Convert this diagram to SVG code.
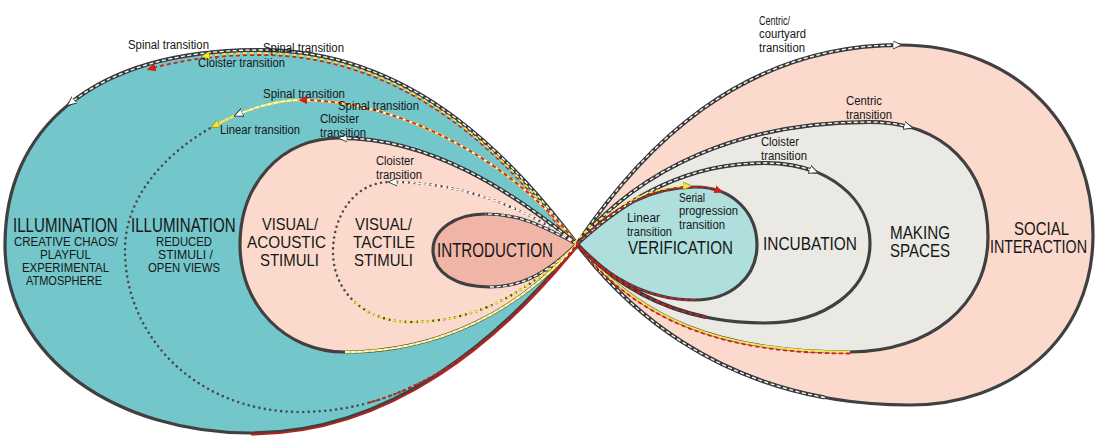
<svg xmlns="http://www.w3.org/2000/svg" width="1115" height="438" viewBox="0 0 1115 438">
<style>
text{font-family:"Liberation Sans",Arial,sans-serif;fill:#161616}
.out{stroke:#404040;stroke-width:3.2;stroke-linejoin:round}
.dot{fill:none;stroke:#4a4a4a;stroke-width:2.6;stroke-linecap:round;stroke-dasharray:0 5.5}
.base{fill:none;stroke:#3b3b3b;stroke-width:4}
.wd{fill:none;stroke:#fff;stroke-width:1.3;stroke-dasharray:4 2.5}
.rd{fill:none;stroke:#d21f1b;stroke-width:1.8;stroke-dasharray:4 3}
.yd{fill:none;stroke:#f2e73a;stroke-width:1.8;stroke-dasharray:4 3}
.ys{fill:none;stroke:#efe55a;stroke-width:2.4}
.big{font-size:20px}
.sub{font-size:12.5px}
.mid{font-size:16.5px}
.sm{font-size:12px}
</style>
<defs>
<marker id="aw" viewBox="0 0 10 10" refX="8" refY="5" markerWidth="9" markerHeight="9" markerUnits="userSpaceOnUse" orient="auto"><path d="M0,0.5 L10,5 L0,9.5 z" fill="#fff" stroke="#333" stroke-width="1"/></marker>
<marker id="ar" viewBox="0 0 10 10" refX="8" refY="5" markerWidth="9" markerHeight="9" markerUnits="userSpaceOnUse" orient="auto"><path d="M0,0.5 L10,5 L0,9.5 z" fill="#d21f1b"/></marker>
<marker id="ay" viewBox="0 0 10 10" refX="8" refY="5" markerWidth="9" markerHeight="9" markerUnits="userSpaceOnUse" orient="auto"><path d="M0,0.5 L10,5 L0,9.5 z" fill="#f2e73a" stroke="#8c8420" stroke-width="0.8"/></marker>
</defs>

<g id="illumination-creative">
<path class="out" fill="#73c6c9" d="M577,244 C520,170 420,50 260,50 C90,50 5,130 5,245 C5,360 120,433 250,433 C390,433 500,340 577,244 Z"/>
<text class="big" x="17.2" y="232" transform="scale(0.756,1)">ILLUMINATION</text>
<text class="sub" x="14" y="246" textLength="104" lengthAdjust="spacingAndGlyphs">CREATIVE CHAOS/</text>
<text class="sub" x="40" y="259" textLength="51" lengthAdjust="spacingAndGlyphs">PLAYFUL</text>
<text class="sub" x="22" y="272" textLength="87" lengthAdjust="spacingAndGlyphs">EXPERIMENTAL</text>
<text class="sub" x="26" y="285" textLength="76" lengthAdjust="spacingAndGlyphs">ATMOSPHERE</text>
</g>
<g id="illumination-reduced">
<path class="dot" d="M577,244 C520,170 410,100 300,100 C240,100 125,160 125,250 C125,340 200,412 300,412 C420,412 510,330 577,244"/>
<text class="big" x="173.3" y="232" transform="scale(0.756,1)">ILLUMINATION</text>
<text class="sub" x="156" y="246" textLength="56" lengthAdjust="spacingAndGlyphs">REDUCED</text>
<text class="sub" x="158" y="259" textLength="55" lengthAdjust="spacingAndGlyphs">STIMULI /</text>
<text class="sub" x="148" y="272" textLength="72" lengthAdjust="spacingAndGlyphs">OPEN VIEWS</text>
</g>
<g id="visual-acoustic">
<path class="out" fill="#fbdacd" d="M577,244 C510,190 430,138 340,138 C280,138 240,185 240,245 C240,305 285,352 345,352 C440,352 520,310 577,244 Z"/>
<text class="mid" x="262" y="230" textLength="56" lengthAdjust="spacingAndGlyphs">VISUAL/</text>
<text class="mid" x="247" y="248" textLength="79" lengthAdjust="spacingAndGlyphs">ACOUSTIC</text>
<text class="mid" x="260" y="266" textLength="59" lengthAdjust="spacingAndGlyphs">STIMULI</text>
</g>
<g id="visual-tactile">
<path class="dot" d="M577,244 C520,205 460,182 390,182 C355,182 333,215 333,252 C333,292 365,322 410,322 C480,322 530,290 577,244"/>
<text class="mid" x="355" y="230" textLength="57" lengthAdjust="spacingAndGlyphs">VISUAL/</text>
<text class="mid" x="353" y="248" textLength="62" lengthAdjust="spacingAndGlyphs">TACTILE</text>
<text class="mid" x="354" y="266" textLength="59" lengthAdjust="spacingAndGlyphs">STIMULI</text>
</g>
<g id="introduction">
<path class="out" fill="#f0b5a7" d="M577,244 C540,225 520,214 485,214 C455,214 433,230 433,250 C433,272 455,287 490,287 C525,287 550,270 577,244 Z"/>
<text x="437" y="257" font-size="20" textLength="116" lengthAdjust="spacingAndGlyphs">INTRODUCTION</text>
</g>

<g id="social-interaction">
<path class="out" fill="#fbdacd" d="M577,244 C640,150 740,45 900,45 C1020,45 1093,130 1093,235 C1093,340 1010,405 910,405 C760,405 650,340 577,244 Z"/>
<text x="1014" y="235" font-size="18" textLength="55" lengthAdjust="spacingAndGlyphs">SOCIAL</text>
<text x="990" y="253" font-size="18" textLength="97" lengthAdjust="spacingAndGlyphs">INTERACTION</text>
</g>
<g id="making-spaces">
<path class="out" fill="#eae9e4" d="M577,244 C640,168 740,122 870,122 C945,122 988,170 988,237 C988,305 930,352 850,352 C720,352 640,320 577,244 Z"/>
<text x="890" y="239" font-size="18" textLength="60" lengthAdjust="spacingAndGlyphs">MAKING</text>
<text x="890" y="257" font-size="18" textLength="60" lengthAdjust="spacingAndGlyphs">SPACES</text>
</g>
<g id="incubation">
<path class="out" fill="#eae9e4" d="M577,244 C630,195 690,163 765,163 C830,163 870,200 870,243 C870,290 825,323 765,323 C680,323 620,290 577,244 Z"/>
<text x="763" y="250" font-size="19" textLength="94" lengthAdjust="spacingAndGlyphs">INCUBATION</text>
</g>
<g id="verification">
<path class="out" fill="#aedfdc" d="M577,244 C610,210 650,187 695,187 C735,187 757,215 757,245 C757,278 730,300 695,300 C645,300 605,275 577,244 Z"/>
<text x="628" y="254" font-size="19" textLength="105" lengthAdjust="spacingAndGlyphs">VERIFICATION</text>
</g>

<g id="connectors">
<path class="base" d="M577,244 C520,170 420,50 260,50 C175,50 111.25,70 68.75,104.4"/>
<path class="wd" marker-end="url(#aw)" d="M577,244 C520,170 420,50 260,50 C175,50 111.25,70 68.75,104.4"/>
<path class="rd" marker-end="url(#ar)" transform="translate(0,5)" d="M577,244 C520,170 420,50 260,50 C217.5,50 180.3,55 148.4,64.3"/>
<path class="yd" marker-end="url(#ay)" transform="translate(0,3)" d="M577,244 C520,170 420,50 260,50 C239.6,50 220.4,51.15 202.5,53.4"/>
<path class="ys" marker-end="url(#ay)" d="M577,244 C520,170 410,100 300,100 C276,100 243.2,109.6 212.5,126.9"/>
<path class="wd" marker-end="url(#aw)" d="M577,244 C520,170 410,100 300,100 C282,100 259,105.4 235.7,115.4"/>
<path class="rd" marker-end="url(#ar)" d="M577,244 C520,170 410,100 300,100"/>
<path class="base" d="M577,244 C510,190 430,138 340,138"/>
<path class="wd" marker-end="url(#aw)" d="M577,244 C510,190 430,138 340,138"/>
<path class="wd" stroke-dasharray="3 4" marker-end="url(#aw)" d="M577,244 C520,205 460,182 390,182"/>
<path class="wd" d="M577,244 C540,225 520,214 485,214"/>
<path class="wd" d="M490,287 C525,287 550,270 577,244"/>
<path class="yd" stroke-dasharray="2 3" stroke-width="2.4" d="M354.6,302 C368.25,314.5 387.5,322 410,322 C480,322 530,290 577,244"/>
<path class="ys" d="M345,352 C440,352 520,310 577,244"/>
<path class="wd" d="M345,352 C440,352 520,310 577,244"/>
<path class="rd" d="M368.5,402.8 C455.1,379 523.4,312.8 577,244"/>
<path fill="none" stroke="#b3221d" stroke-width="2" transform="translate(1,1.5)" d="M250,433 C390,433 500,340 577,244"/>
<path class="base" d="M577,244 C640,150 740,45 900,45"/>
<path class="wd" marker-end="url(#aw)" d="M577,244 C640,150 740,45 900,45"/>
<path class="base" d="M577,244 C640,168 740,122 870,122 C885,122 898.7,123.9 911,127.5"/>
<path class="wd" marker-end="url(#aw)" d="M577,244 C640,168 740,122 870,122 C885,122 898.7,123.9 911,127.5"/>
<path class="base" d="M577,244 C630,195 690,163 765,163 C784.5,163 801.75,166.3 816.3,172.1"/>
<path class="wd" marker-end="url(#aw)" d="M577,244 C630,195 690,163 765,163 C784.5,163 801.75,166.3 816.3,172.1"/>
<path class="rd" stroke-width="2.2" marker-end="url(#ar)" d="M577,244 C610,210 650,187 695,187 C705,187 713.9,188.75 721.6,191.8"/>
<path class="yd" marker-end="url(#ay)" transform="translate(-3,-1)" d="M577,244 C610,210 650,187 693,187"/>
<path class="base" d="M824.8,397.5 C717.5,377.8 635.4,320.8 577,244"/>
<path class="wd" d="M824.8,397.5 C717.5,377.8 635.4,320.8 577,244"/>
<path class="ys" d="M850,352 C720,352 640,320 577,244"/>
<path class="rd" transform="translate(0,1.5)" d="M850,352 C720,352 640,320 577,244"/>
<path class="base" stroke-width="3" d="M705.8,317.1 C651.06,305.69 609.25,278.5 577,244"/>
<path class="rd" d="M705.8,317.1 C651.06,305.69 609.25,278.5 577,244"/>
<path class="rd" d="M695,300 C645,300 605,275 577,244"/>
<text class="sm" x="128" y="49" textLength="81" lengthAdjust="spacingAndGlyphs">Spinal transition</text>
<text class="sm" x="263" y="52" textLength="81" lengthAdjust="spacingAndGlyphs">Spinal transition</text>
<text class="sm" x="198" y="67" textLength="87" lengthAdjust="spacingAndGlyphs">Cloister transition</text>
<text class="sm" x="263" y="98" textLength="82" lengthAdjust="spacingAndGlyphs">Spinal transition</text>
<text class="sm" x="338" y="110" textLength="81" lengthAdjust="spacingAndGlyphs">Spinal transition</text>
<text class="sm" x="220" y="134" textLength="80" lengthAdjust="spacingAndGlyphs">Linear transition</text>
<text class="sm" x="320" y="123" textLength="39" lengthAdjust="spacingAndGlyphs">Cloister</text>
<text class="sm" x="320" y="137" textLength="46" lengthAdjust="spacingAndGlyphs">transition</text>
<text class="sm" x="376" y="165" textLength="38" lengthAdjust="spacingAndGlyphs">Cloister</text>
<text class="sm" x="376" y="179" textLength="46" lengthAdjust="spacingAndGlyphs">transition</text>
<text class="sm" x="759" y="25" textLength="31" lengthAdjust="spacingAndGlyphs">Centric/</text>
<text class="sm" x="759" y="38" textLength="47" lengthAdjust="spacingAndGlyphs">courtyard</text>
<text class="sm" x="759" y="52" textLength="46" lengthAdjust="spacingAndGlyphs">transition</text>
<text class="sm" x="846" y="105" textLength="36" lengthAdjust="spacingAndGlyphs">Centric</text>
<text class="sm" x="846" y="119" textLength="46" lengthAdjust="spacingAndGlyphs">transition</text>
<text class="sm" x="761" y="146" textLength="38" lengthAdjust="spacingAndGlyphs">Cloister</text>
<text class="sm" x="761" y="160" textLength="46" lengthAdjust="spacingAndGlyphs">transition</text>
<text class="sm" x="627" y="222" textLength="33" lengthAdjust="spacingAndGlyphs">Linear</text>
<text class="sm" x="627" y="236" textLength="45" lengthAdjust="spacingAndGlyphs">transition</text>
<text class="sm" x="679" y="202" textLength="26" lengthAdjust="spacingAndGlyphs">Serial</text>
<text class="sm" x="679" y="215" textLength="59" lengthAdjust="spacingAndGlyphs">progression</text>
<text class="sm" x="679" y="229" textLength="46" lengthAdjust="spacingAndGlyphs">transition</text>
</g>
</svg>
